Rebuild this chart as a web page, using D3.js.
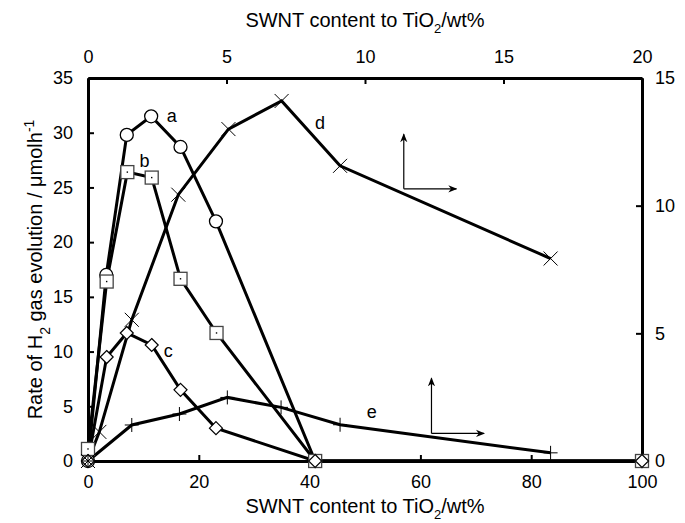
<!DOCTYPE html>
<html>
<head>
<meta charset="utf-8">
<script src="https://cdn.jsdelivr.net/npm/d3@7"></script>
<style>
  body { margin: 0; background: #fff; }
  svg { font-family: "Liberation Sans", Arial, sans-serif; }
</style>
</head>
<body>
<svg width="685" height="523"></svg>
<script>
// bottom / left axes series (wt% SWNT, rate umol/h)
var seriesA = [[0,0],[3.3,17],[7,29.8],[11.4,31.5],[16.7,28.7],[23.1,21.9],[41,0],[100,0]];
var seriesB = [[0,1.1],[3.37,16.4],[7.1,26.4],[11.5,25.9],[16.7,16.65],[23.2,11.7],[41,0],[100,0]];
var seriesC = [[0,0],[3.37,9.5],[7,11.7],[11.5,10.6],[16.7,6.5],[23.1,3.0],[41,0],[100,0]];
// top / right axes series
var seriesD = [[0,0],[0.41,1.14],[1.58,5.53],[3.26,10.43],[5.07,13.0],[6.99,14.1],[9.1,11.56],[16.7,7.93]];
var seriesE = [[0,0],[1.58,1.41],[3.3,1.84],[5.03,2.49],[6.97,2.1],[9.1,1.42],[16.7,0.32]];

var bottomTicks = [0,20,40,60,80,100];
var topTicks = [0,5,10,15,20];
var leftTicks = [0,5,10,15,20,25,30,35];
var rightTicks = [0,5,10,15];

var svg = d3.select("svg");
var x0 = 88, x1 = 642, y0 = 461, y1 = 78;

var xB = d3.scaleLinear().domain([0,100]).range([x0,x1]);
var xT = d3.scaleLinear().domain([0,20]).range([x0,x1]);
var yL = d3.scaleLinear().domain([0,35]).range([y0,y1]);
var yR = d3.scaleLinear().domain([0,15]).range([y0,y1]);

svg.append("defs").append("marker")
    .attr("id", "arr")
    .attr("viewBox", "0 -5 10 10")
    .attr("refX", 9)
    .attr("refY", 0)
    .attr("markerWidth", 9)
    .attr("markerHeight", 9)
    .attr("markerUnits", "userSpaceOnUse")
    .attr("orient", "auto")
  .append("path")
    .attr("d", "M0,-4L10,0L0,4L3,0Z")
    .attr("fill", "#000");

function styleAxis(g) {
    g.select(".domain").attr("stroke-width", 3);
    g.selectAll(".tick line").attr("stroke-width", 2);
    g.selectAll(".tick text").attr("font-size", 18).attr("fill", "#000")
        .attr("font-family", "Liberation Sans, Arial, sans-serif");
}

svg.append("g").attr("transform", "translate(0," + y0 + ")")
    .call(d3.axisBottom(xB).tickValues(bottomTicks).tickSizeInner(-6).tickSizeOuter(0).tickPadding(14))
    .call(styleAxis);
svg.append("g").attr("transform", "translate(0," + y1 + ")")
    .call(d3.axisTop(xT).tickValues(topTicks).tickSizeInner(-6).tickSizeOuter(0).tickPadding(15))
    .call(styleAxis);
svg.append("g").attr("transform", "translate(" + x0 + ",0)")
    .call(d3.axisLeft(yL).tickValues(leftTicks).tickSizeInner(-6).tickSizeOuter(0).tickPadding(15))
    .call(styleAxis);
svg.append("g").attr("transform", "translate(" + x1 + ",0)")
    .call(d3.axisRight(yR).tickValues(rightTicks).tickSizeInner(-6).tickSizeOuter(0).tickPadding(13))
    .call(styleAxis);

// titles
function tio2Title(sel) {
    sel.append("tspan").text("SWNT content to TiO");
    sel.append("tspan").attr("font-size", 13).attr("dy", 6).text("2");
    sel.append("tspan").attr("dy", -6).text("/wt%");
}
svg.append("text").attr("x", 365).attr("y", 27).attr("text-anchor", "middle")
    .attr("font-size", 20).call(tio2Title);
svg.append("text").attr("x", 365).attr("y", 513).attr("text-anchor", "middle")
    .attr("font-size", 20).call(tio2Title);

var yt = svg.append("text")
    .attr("transform", "translate(42," + ((y0 + y1) / 2) + ") rotate(-90)")
    .attr("text-anchor", "middle")
    .attr("font-size", 20);
yt.append("tspan").text("Rate of H");
yt.append("tspan").attr("font-size", 14).attr("dy", 8).text("2");
yt.append("tspan").attr("dy", -8).text(" gas evolution / \u03bcmolh");
yt.append("tspan").attr("font-size", 14).attr("dy", -8).text("-1");

// lines
var lineB = d3.line().x(function(d) { return xB(d[0]); }).y(function(d) { return yL(d[1]); });
var lineT = d3.line().x(function(d) { return xT(d[0]); }).y(function(d) { return yR(d[1]); });

[seriesA, seriesB, seriesC].forEach(function(s) {
    svg.append("path").datum(s).attr("d", lineB)
        .attr("fill", "none").attr("stroke", "#000").attr("stroke-width", 3);
});
[seriesD, seriesE].forEach(function(s) {
    svg.append("path").datum(s).attr("d", lineT)
        .attr("fill", "none").attr("stroke", "#000").attr("stroke-width", 3);
});

// markers
svg.append("g").selectAll("circle").data(seriesA).enter().append("circle")
    .attr("cx", function(d) { return xB(d[0]); })
    .attr("cy", function(d) { return yL(d[1]); })
    .attr("r", 6.5)
    .attr("fill", "#fff").attr("stroke", "#000").attr("stroke-width", 1.3);

var sq = svg.append("g").selectAll("g").data(seriesB).enter().append("g")
    .attr("transform", function(d) { return "translate(" + xB(d[0]) + "," + yL(d[1]) + ")"; });
sq.append("rect").attr("x", -6.5).attr("y", -6.5).attr("width", 13).attr("height", 13)
    .attr("fill", "#fff").attr("stroke", "#444").attr("stroke-width", 1.3);
sq.append("rect").attr("x", -0.7).attr("y", -0.7).attr("width", 1.4).attr("height", 1.4).attr("fill", "#000");

svg.append("g").selectAll("path").data(seriesC).enter().append("path")
    .attr("transform", function(d) { return "translate(" + xB(d[0]) + "," + yL(d[1]) + ")"; })
    .attr("d", "M0,-6.5L6.5,0L0,6.5L-6.5,0Z")
    .attr("fill", "#fff").attr("stroke", "#000").attr("stroke-width", 1.2);

svg.append("g").selectAll("path").data(seriesD).enter().append("path")
    .attr("transform", function(d) { return "translate(" + xT(d[0]) + "," + yR(d[1]) + ")"; })
    .attr("d", "M-7,-7L7,7M-7,7L7,-7")
    .attr("fill", "none").attr("stroke", "#000").attr("stroke-width", 1);

svg.append("g").selectAll("path").data(seriesE).enter().append("path")
    .attr("transform", function(d) { return "translate(" + xT(d[0]) + "," + yR(d[1]) + ")"; })
    .attr("d", "M-7,0L7,0M0,-7L0,7")
    .attr("fill", "none").attr("stroke", "#000").attr("stroke-width", 1);

// series labels
var labelsB = [["a",15.1,31.5],["b",10.2,27.4],["c",14.5,10.0]];
var labelsT = [["d",8.38,13.2],["e",10.24,1.89]];
labelsB.forEach(function(l) {
    svg.append("text").attr("x", xB(l[1])).attr("y", yL(l[2])).attr("dy", "0.3em")
        .attr("text-anchor", "middle").attr("font-size", 18).text(l[0]);
});
labelsT.forEach(function(l) {
    svg.append("text").attr("x", xT(l[1])).attr("y", yR(l[2])).attr("dy", "0.3em")
        .attr("text-anchor", "middle").attr("font-size", 18).text(l[0]);
});

// axis-direction arrows (top/right scales)
var arrows = [[11.4,10.66,12.8,13.3],[12.4,1.08,3.24,14.3]];
arrows.forEach(function(a) {
    svg.append("path")
        .attr("d", "M" + xT(a[0]) + "," + yR(a[1]) + "L" + xT(a[0]) + "," + yR(a[2]))
        .attr("stroke", "#000").attr("stroke-width", 1.2).attr("marker-end", "url(#arr)");
    svg.append("path")
        .attr("d", "M" + xT(a[0]) + "," + yR(a[1]) + "L" + xT(a[3]) + "," + yR(a[1]))
        .attr("stroke", "#000").attr("stroke-width", 1.2).attr("marker-end", "url(#arr)");
});
</script>
</body>
</html>
